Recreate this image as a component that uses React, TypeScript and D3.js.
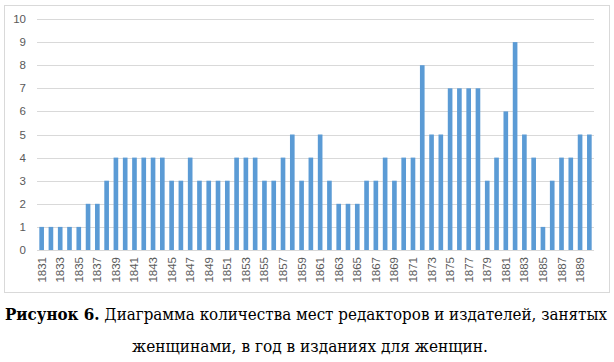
import React, { useEffect, useRef } from 'react'
import * as d3 from 'd3'

const years = d3.range(1831, 1891).map(String)
const counts = [
	1, 1, 1, 1, 1, 2, 2, 3, 4, 4,
	4, 4, 4, 4, 3, 3, 4, 3, 3, 3,
	3, 4, 4, 4, 3, 3, 4, 5, 3, 4,
	5, 3, 2, 2, 2, 3, 3, 4, 3, 4,
	4, 8, 5, 5, 7, 7, 7, 7, 3, 4,
	6, 9, 5, 4, 1, 3, 4, 4, 5, 5,
]
const yTicks = d3.range(0, 11)
const captionBold = 'Рисунок 6.'
const captionRest = ' Диаграмма количества мест редакторов и издателей, занятых'
const captionLine2 = 'женщинами, в год в изданиях для женщин.'

const W = 614
const H = 362
const barColor = '#5b9bd5'
const gridColor = '#d9d9d9'
const labelColor = '#595959'
const serif = "'DejaVu Serif Condensed', 'DejaVu Serif', serif"
const sans = "'Liberation Sans', Arial, sans-serif"

export default function App() {
	const svgRef = useRef<SVGSVGElement>(null)

	useEffect(() => {
		const root = d3.select(svgRef.current)
		root.selectAll('*').remove()

		// chart frame
		root.append('rect')
			.attr('x', 4.5).attr('y', 5.5)
			.attr('width', 605).attr('height', 287)
			.attr('fill', 'white')
			.attr('stroke', gridColor)

		const x = d3.scaleBand().domain(years).range([37, 594]).paddingInner(0.5).paddingOuter(0.25)
		const y = d3.scaleLinear().domain([0, 10]).range([250, 19])

		// gridlines
		root.append('g').selectAll('line').data(yTicks).join('line')
			.attr('x1', 37).attr('x2', 594)
			.attr('y1', d => Math.round(y(d)) + 0.5)
			.attr('y2', d => Math.round(y(d)) + 0.5)
			.attr('stroke', gridColor)

		// y labels
		root.append('g').selectAll('text').data(yTicks).join('text')
			.attr('x', 26)
			.attr('y', d => y(d) + 4)
			.attr('text-anchor', 'end')
			.style('font-family', sans)
			.attr('font-size', 11.5)
			.attr('fill', labelColor)
			.text(d => d)

		// bars
		root.append('g').selectAll('rect').data(counts).join('rect')
			.attr('x', (d, i) => x(years[i])!)
			.attr('y', d => y(d))
			.attr('width', x.bandwidth())
			.attr('height', d => y(0) - y(d))
			.attr('fill', barColor)

		// x labels, every second year
		root.append('g').selectAll('text')
			.data(years.filter((d, i) => i % 2 === 0))
			.join('text')
			.attr('transform', d => `translate(${x(d)! + x.bandwidth() / 2 + 4},257) rotate(-90)`)
			.attr('text-anchor', 'end')
			.style('font-family', sans)
			.attr('font-size', 11.5)
			.attr('fill', labelColor)
			.text(d => d)

		// caption
		const cap = root.append('text')
			.attr('x', 5).attr('y', 320)
			.attr('textLength', 602)
			.attr('lengthAdjust', 'spacingAndGlyphs')
			.style('font-family', serif)
			.attr('font-size', 16.5)
			.attr('fill', '#000')
		cap.append('tspan').attr('font-weight', 'bold').text(captionBold)
		cap.append('tspan').text(captionRest)
		root.append('text')
			.attr('x', 132).attr('y', 352)
			.attr('textLength', 356)
			.attr('lengthAdjust', 'spacingAndGlyphs')
			.style('font-family', serif)
			.attr('font-size', 16.5)
			.attr('fill', '#000')
			.text(captionLine2)
	}, [])

	return (
		<svg ref={svgRef} width={W} height={H}
			style={{ position: 'absolute', left: 0, top: 0, background: 'white' }} />
	)
}
